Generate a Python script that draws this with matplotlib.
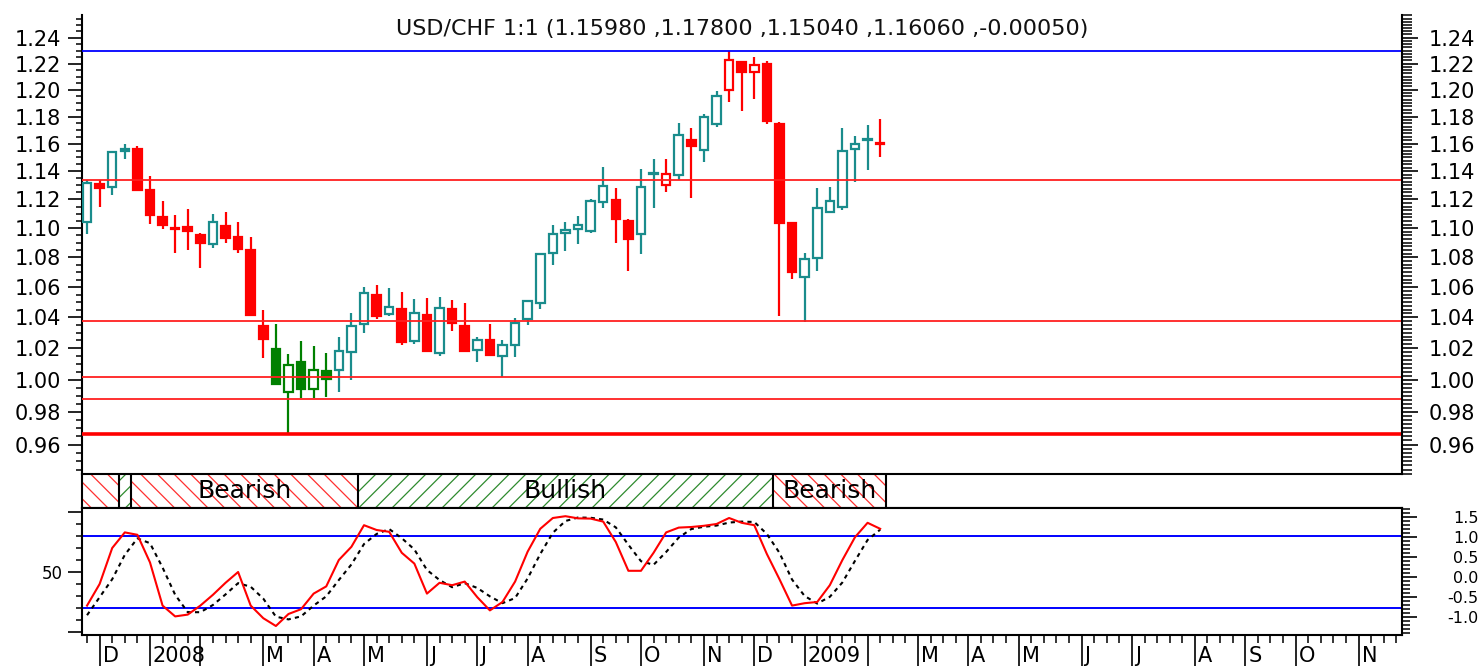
import numpy as np
import pandas as pd
import matplotlib
matplotlib.use("Agg")
import matplotlib.pyplot as plt
from matplotlib.ticker import FixedLocator, MultipleLocator, NullFormatter, NullLocator
from matplotlib.transforms import blended_transform_factory, ScaledTranslation

# weekly USD/CHF bars (dated on Fridays)
first_bar = "2007-11-30"
opens = [1.104, 1.131, 1.129, 1.155, 1.156, 1.127, 1.108, 1.100, 1.1007, 1.095,
         1.089, 1.1016, 1.094, 1.085, 1.0344, 1.0195, 0.9925, 1.011, 0.994, 1.0055,
         1.0064, 1.0175, 1.0355, 1.0545, 1.0422, 1.0454, 1.0247, 1.0415, 1.0168, 1.0453,
         1.0344, 1.0188, 1.0253, 1.015, 1.0221, 1.0387, 1.0497, 1.0831, 1.0966, 1.0991,
         1.0983, 1.118, 1.1195, 1.1049, 1.0958, 1.138, 1.1303, 1.1375, 1.1624, 1.1556,
         1.1742, 1.200, 1.2213, 1.2135, 1.220, 1.1747, 1.1037, 1.0664, 1.0796, 1.1109,
         1.1147, 1.1562, 1.163, 1.1598]
highs = [1.134, 1.134, 1.155, 1.160, 1.158, 1.137, 1.119, 1.109, 1.113, 1.0965,
         1.110, 1.111, 1.104, 1.094, 1.045, 1.0355, 1.016, 1.0247, 1.0215, 1.0168,
         1.0275, 1.0426, 1.060, 1.0616, 1.0596, 1.0567, 1.0522, 1.0526, 1.0533, 1.0516,
         1.0496, 1.0275, 1.0355, 1.0253, 1.0394, 1.0516, 1.0825, 1.102, 1.104, 1.1087,
         1.1205, 1.143, 1.128, 1.106, 1.142, 1.149, 1.149, 1.175, 1.1715, 1.182,
         1.199, 1.2297, 1.222, 1.2247, 1.222, 1.176, 1.104, 1.083, 1.128, 1.129,
         1.1715, 1.1657, 1.174, 1.178]
lows = [1.096, 1.115, 1.123, 1.149, 1.126, 1.103, 1.0995, 1.083, 1.085, 1.073,
        1.0865, 1.090, 1.083, 1.041, 1.014, 0.997, 0.9667, 0.9886, 0.9886, 0.9893,
        0.9924, 1.000, 1.030, 1.039, 1.041, 1.022, 1.0228, 1.0179, 1.015, 1.031,
        1.0173, 1.011, 1.015, 1.0017, 1.0142, 1.035, 1.0454, 1.0745, 1.0843, 1.089,
        1.0966, 1.114, 1.090, 1.0706, 1.082, 1.114, 1.1254, 1.134, 1.121, 1.147,
        1.172, 1.191, 1.184, 1.193, 1.1747, 1.041, 1.0655, 1.037, 1.0706, 1.1105,
        1.1125, 1.1322, 1.141, 1.1504]
closes = [1.132, 1.128, 1.154, 1.156, 1.127, 1.109, 1.102, 1.0995, 1.098, 1.090,
          1.104, 1.0935, 1.086, 1.0415, 1.026, 0.997, 1.009, 0.994, 1.0064, 1.0006,
          1.0185, 1.0344, 1.0563, 1.041, 1.047, 1.024, 1.0426, 1.018, 1.0464, 1.036,
          1.018, 1.0253, 1.0156, 1.0221, 1.0362, 1.0508, 1.082, 1.0958, 1.099, 1.1024,
          1.1188, 1.1297, 1.1064, 1.0925, 1.1288, 1.139, 1.138, 1.1665, 1.1585, 1.1793,
          1.1955, 1.2226, 1.2135, 1.219, 1.1764, 1.1034, 1.070, 1.079, 1.1143, 1.1188,
          1.1547, 1.160, 1.1635, 1.1606]
# colour state of each candle: t = teal, r = red, g = green
candle_state = list("trttrrrrrr" "trrrrggggg" "tttrtrtrtr" "rtrttttttt"
                    "ttrrttrtrt" "trrrrrrttt" "tttr")

# support / resistance lines
level_values = [1.2297, 1.134, 1.0377, 1.0016, 0.988, 0.9664]
level_colors = ["#0000ff", "#ff2020", "#ff2020", "#ff2020", "#ff2020", "#ff0000"]
level_widths = [1.3, 1.3, 1.3, 1.3, 1.3, 2.6]

# trend band segments (bar index ranges)
band_start = [0, 3, 4, 22, 55]
band_end = [2, 3, 21, 54, 63]
band_trend = ["Bearish", "Bullish", "Bearish", "Bullish", "Bearish"]

# stochastic oscillator
stoch_k = [22, 40, 70, 83, 81, 58, 22, 13, 14.5, 22,
           31, 41, 50, 22, 11.5, 5, 15, 19, 32, 38,
           60, 71, 89, 85, 83.5, 66, 57, 32, 41, 39,
           42, 29, 18, 25, 42, 67, 86, 95, 96.5, 94.7,
           94.5, 92, 75, 51, 51, 66, 83, 87, 87.5, 88.5,
           90, 95, 91, 89, 65, 44, 22, 24, 25, 39,
           60, 79, 91, 86]
stoch_d = [14, 29, 44, 64.3, 78, 74, 53.7, 31, 16.5, 16.5,
           22.5, 31.3, 40.7, 37.7, 27.8, 12.8, 10.5, 13, 22, 29.7,
           43.3, 56.3, 73.3, 81.7, 85.8, 78.2, 68.8, 51.7, 43.3, 37.3,
           40.7, 36.7, 29.7, 24, 28.3, 44.7, 65, 82.7, 92.5, 95.4,
           95.2, 93.7, 87.2, 72.7, 59, 56, 66.7, 78.7, 85.8, 87.7,
           88.7, 91.2, 92, 91.7, 81.7, 66, 43.7, 30, 23.7, 29.3,
           41.3, 59.3, 76.7, 85.3]
stoch_levels = [80, 20]

price_ticks = [0.96, 0.98, 1.00, 1.02, 1.04, 1.06, 1.08, 1.10, 1.12, 1.14,
               1.16, 1.18, 1.20, 1.22, 1.24]
right_ticks = [-1.0, -0.5, 0.0, 0.5, 1.0, 1.5]
month_letters = ["J", "F", "M", "A", "M", "J", "J", "A", "S", "O", "N", "D"]
title = "USD/CHF 1:1 (1.15980 ,1.17800 ,1.15040 ,1.16060 ,-0.00050)"

colors_map = {"t": "#1a8c8c", "r": "#ff0000", "g": "#008000"}
hatch_map = {"Bearish": ("#ff3030", "\\\\"), "Bullish": ("#2e8b2e", "//")}

n_bars = len(opens)
axis_dates = pd.date_range(first_bar, periods=105, freq="W-FRI")
x = np.arange(n_bars)
xlim = (-0.4, 104.45)

plt.rcParams["hatch.linewidth"] = 0.9
fig = plt.figure(figsize=(14.82, 6.66), dpi=100)
W, H = 1482, 666


def box(l, t, r, b):
    return [l / W, 1 - b / H, (r - l) / W, (b - t) / H]


ax = fig.add_axes(box(82, 15, 1402, 474))
axb = fig.add_axes(box(82, 474, 1402, 507.5))
axi = fig.add_axes(box(82, 507.5, 1402, 635))

# --------------------------
# price panel
# --------------------------
for i in range(n_bars):
    col = colors_map[candle_state[i]]
    lo, hi = min(opens[i], closes[i]), max(opens[i], closes[i])
    filled = closes[i] < opens[i]
    ax.vlines(i, lows[i], highs[i], color=col, lw=1.6, zorder=2)
    ax.bar(i, max(hi - lo, 1e-5), bottom=lo, width=0.68,
           facecolor=col if filled else "white", edgecolor=col, lw=1.6, zorder=3)

for val, c, w in zip(level_values, level_colors, level_widths):
    ax.axhline(val, color=c, lw=w, zorder=4)

ax.set_yscale("log")
ylim = (0.9424, 1.2578)
ax.set_ylim(*ylim)
ax.set_xlim(*xlim)
ax.xaxis.set_major_locator(NullLocator())
ax.xaxis.set_minor_locator(NullLocator())
ax.yaxis.set_major_locator(FixedLocator(price_ticks))
ax.yaxis.set_minor_locator(MultipleLocator(0.005))
ax.yaxis.set_major_formatter(plt.FuncFormatter(lambda v, p: f"{v:.2f}"))
ax.yaxis.set_minor_formatter(NullFormatter())
ax.tick_params(axis="y", which="major", length=10, width=1.2, pad=5, labelsize=15)
ax.tick_params(axis="y", which="minor", length=4, width=1.1)
for s in ["top", "bottom", "right"]:
    ax.spines[s].set_visible(False)
ax.spines["left"].set_linewidth(1.5)

ax2 = ax.twinx()
ax2.set_yscale("log")
ax2.set_ylim(*ylim)
ax2.yaxis.set_major_locator(FixedLocator(price_ticks))
ax2.yaxis.set_minor_locator(MultipleLocator(0.0025))
ax2.yaxis.set_major_formatter(plt.FuncFormatter(lambda v, p: f"{v:.2f}"))
ax2.yaxis.set_minor_formatter(NullFormatter())
ax2.tick_params(axis="y", which="major", length=11.5, width=1.2, pad=8, labelsize=15)
ax2.tick_params(axis="y", which="minor", length=7, width=1.1)
for s in ["top", "bottom", "left"]:
    ax2.spines[s].set_visible(False)
ax2.spines["right"].set_linewidth(1.5)

ax.text(0.5, 0.9695, title, transform=ax.transAxes, ha="center", va="center",
        fontsize=16, color="#111111")

# --------------------------
# trend band
# --------------------------
axb.set_xlim(*xlim)
axb.set_ylim(0, 1)
for s0, s1, trend in zip(band_start, band_end, band_trend):
    hc, hp = hatch_map[trend]
    axb.axvspan(s0 - 0.5, s1 + 0.5, facecolor="white", edgecolor=hc, hatch=hp, lw=0)
    if s1 - s0 > 4:
        axb.text((s0 + s1) / 2, 0.5, trend, ha="center", va="center", fontsize=18)
axb.vlines([s - 0.5 for s in band_start[1:]] + [band_end[-1] + 0.5], 0, 1,
           color="black", lw=1.5)
axb.set_xticks([])
axb.set_yticks([])
axb.spines["right"].set_visible(False)
for s in ["top", "bottom", "left"]:
    axb.spines[s].set_linewidth(1.5)

# --------------------------
# stochastic panel
# --------------------------
axi.plot(x, stoch_d, color="black", lw=1.5, ls=(0, (2, 2)), zorder=3)
axi.plot(x, stoch_k, color="#ff0000", lw=1.5, zorder=4)
for lv in stoch_levels:
    axi.axhline(lv, color="#0000ff", lw=1.4, zorder=2)
axi.set_xlim(*xlim)
axi.set_ylim(-2.5, 103.75)
axi.yaxis.set_major_locator(FixedLocator([0, 50, 100]))
axi.yaxis.set_minor_locator(MultipleLocator(10))
axi.set_yticklabels(["", "50", ""])
axi.tick_params(axis="y", which="major", length=10, width=1.2, pad=4, labelsize=12)
axi.tick_params(axis="y", which="minor", length=4.5, width=1.1)
for s in axi.spines.values():
    s.set_linewidth(1.5)

axi2 = axi.twinx()
axi2.set_ylim(-1.45, 1.7375)
axi2.yaxis.set_major_locator(FixedLocator(right_ticks))
axi2.yaxis.set_minor_locator(MultipleLocator(0.1))
axi2.set_yticklabels([f"{v:.1f}" for v in right_ticks])
axi2.tick_params(axis="y", which="major", length=11, width=1.2, pad=44, labelsize=11.5)
axi2.tick_params(axis="y", which="minor", length=6, width=1.1)
for lbl in axi2.get_yticklabels():
    lbl.set_horizontalalignment("right")
for s in axi2.spines.values():
    s.set_visible(False)

# month ticks on bar positions (first bar of each month)
months = axis_dates.month.values
month_idx = [i for i in range(1, len(axis_dates)) if months[i] != months[i - 1]]
axi.xaxis.set_major_locator(FixedLocator(month_idx))
axi.xaxis.set_minor_locator(MultipleLocator(1))
axi.xaxis.set_major_formatter(NullFormatter())
axi.tick_params(axis="x", which="major", length=22, width=1.2)
axi.tick_params(axis="x", which="minor", length=6, width=1.1)

trans = blended_transform_factory(axi.transData, axi.transAxes)
trans = trans + ScaledTranslation(3 / 100, 0, fig.dpi_scale_trans)
for i in month_idx:
    d = axis_dates[i]
    if d.month == 1:
        lab = str(d.year)
    elif d.month == 2:
        lab = ""
    else:
        lab = month_letters[d.month - 1]
    axi.text(i, -0.165, lab, transform=trans, ha="left", va="center",
             fontsize=15, clip_on=False)

plt.savefig("out.png", dpi=100)
